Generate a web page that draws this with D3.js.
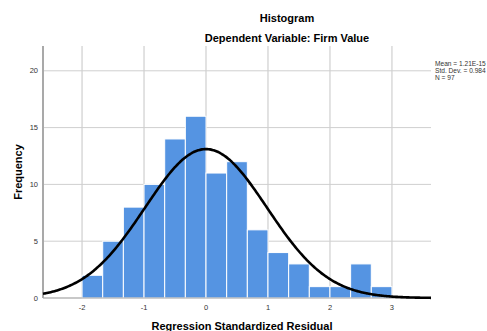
<!DOCTYPE html>
<html>
<head>
<meta charset="utf-8">
<script src="https://cdn.jsdelivr.net/npm/d3@7"></script>
<style>
  html, body { margin: 0; padding: 0; background: #fff; }
  svg { display: block; font-family: "Liberation Sans", Arial, sans-serif; }
</style>
</head>
<body>
<svg id="chart" width="487" height="331"></svg>
<script>
// Data
const binEdgesStart = [-2, -5/3, -4/3, -1, -2/3, -1/3, 0, 1/3, 2/3, 1, 4/3, 5/3, 2, 7/3, 8/3];
const binWidth = 1/3;
const frequencies = [2, 5, 8, 10, 14, 16, 11, 12, 6, 4, 3, 1, 1, 3, 1];
const xTicks = [-2, -1, 0, 1, 2, 3];
const yTicks = [0, 5, 10, 15, 20];
const stats = { mean: 1.21e-15, sd: 0.984, n: 97 };
const legendLines = ["Mean = 1.21E-15", "Std. Dev. = 0.984", "N = 97"];

const svg = d3.select("#chart");
const L = 43, R = 431, T = 46, B = 298;

const x = d3.scaleLinear().domain([-2.63, 3.63]).range([L, R]);
const y = d3.scaleLinear().domain([0, 20]).range([B, 70.8]);

// gridlines
svg.append("g").selectAll("line").data(yTicks).join("line")
  .attr("x1", L).attr("x2", R)
  .attr("y1", d => y(d)).attr("y2", d => y(d))
  .attr("stroke", "#cfcfcf").attr("stroke-width", 1);
svg.append("g").selectAll("line").data(xTicks).join("line")
  .attr("x1", d => x(d)).attr("x2", d => x(d))
  .attr("y1", T).attr("y2", B)
  .attr("stroke", "#cfcfcf").attr("stroke-width", 1.2);

// bars
svg.append("g").selectAll("rect").data(frequencies).join("rect")
  .attr("x", (d, i) => x(binEdgesStart[i]))
  .attr("width", (d, i) => x(binEdgesStart[i] + binWidth) - x(binEdgesStart[i]))
  .attr("y", d => y(d))
  .attr("height", d => y(0) - y(d))
  .attr("fill", "#5594e2")
  .attr("stroke", "#ffffff").attr("stroke-width", 1);

// axes lines
svg.append("line").attr("x1", L).attr("x2", L).attr("y1", T).attr("y2", B)
  .attr("stroke", "#a9a9a9").attr("stroke-width", 2);
svg.append("line").attr("x1", L).attr("x2", R).attr("y1", B).attr("y2", B)
  .attr("stroke", "#a9a9a9").attr("stroke-width", 1);

// normal curve
const k = stats.n * binWidth / (stats.sd * Math.sqrt(2 * Math.PI));
const pts = d3.range(0, 301).map(i => {
  const xv = x.domain()[0] + (x.domain()[1] - x.domain()[0]) * i / 300;
  return [xv, k * Math.exp(-0.5 * Math.pow((xv - stats.mean) / stats.sd, 2))];
});
svg.append("path").datum(pts)
  .attr("d", d3.line().x(d => x(d[0])).y(d => y(d[1])).curve(d3.curveBasis))
  .attr("fill", "none").attr("stroke", "#000").attr("stroke-width", 2.6);

// tick labels
svg.append("g").selectAll("text").data(yTicks).join("text")
  .attr("x", 38).attr("y", d => y(d) + 2.5)
  .attr("text-anchor", "end").attr("font-size", 7.5).attr("fill", "#333")
  .text(d => d);
svg.append("g").selectAll("text").data(xTicks).join("text")
  .attr("x", d => x(d)).attr("y", 310)
  .attr("text-anchor", "middle").attr("font-size", 7.5).attr("fill", "#333")
  .text(d => d);

// titles
svg.append("text").attr("x", 287).attr("y", 22).attr("text-anchor", "middle")
  .attr("font-size", 11).attr("font-weight", "bold").text("Histogram");
svg.append("text").attr("x", 287).attr("y", 42).attr("text-anchor", "middle")
  .attr("font-size", 11).attr("font-weight", "bold").text("Dependent Variable: Firm Value");
svg.append("text").attr("x", 242).attr("y", 330).attr("text-anchor", "middle")
  .attr("font-size", 11).attr("font-weight", "bold").text("Regression Standardized Residual");
svg.append("text").attr("transform", "translate(22,172) rotate(-90)").attr("text-anchor", "middle")
  .attr("font-size", 11).attr("font-weight", "bold").text("Frequency");

// legend
svg.append("g").selectAll("text").data(legendLines).join("text")
  .attr("x", 435).attr("y", (d, i) => 65.5 + i * 7)
  .attr("font-size", 6.6).attr("fill", "#333")
  .text(d => d);
</script>
</body>
</html>
